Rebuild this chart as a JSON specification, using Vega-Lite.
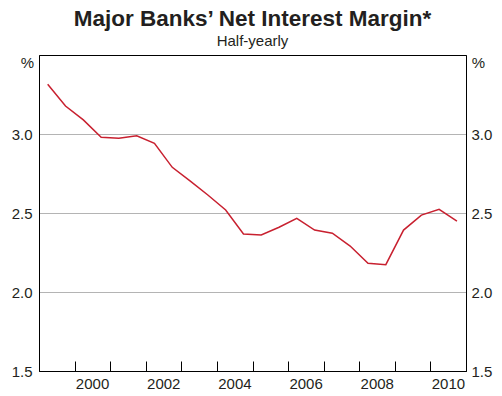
{
  "$schema": "https://vega.github.io/schema/vega-lite/v6.json",
  "width": 427,
  "height": 316,
  "autosize": {"type": "none"},
  "padding": {"left": 39, "top": 55, "right": 36, "bottom": 25},
  "background": "white",
  "title": {
    "text": "Major Banks’ Net Interest Margin*",
    "subtitle": "Half-yearly",
    "font": "Liberation Sans",
    "fontSize": 22.5,
    "fontWeight": "bold",
    "color": "#231f20",
    "subtitleFont": "Liberation Sans",
    "subtitleFontSize": 15,
    "subtitleColor": "#231f20",
    "subtitlePadding": 4,
    "anchor": "middle",
    "frame": "group",
    "offset": 6
  },
  "config": {
    "view": {"stroke": "black", "strokeWidth": 1},
    "axis": {
      "labelFont": "Liberation Sans",
      "labelFontSize": 15,
      "labelColor": "#231f20",
      "titleFont": "Liberation Sans",
      "titleFontSize": 15,
      "titleFontWeight": "normal",
      "titleColor": "#231f20",
      "domainColor": "black",
      "tickColor": "black"
    }
  },
  "data": {
    "values": [
      {"date": "1999-03-31", "nim": 3.315},
      {"date": "1999-09-30", "nim": 3.177},
      {"date": "2000-03-31", "nim": 3.089},
      {"date": "2000-09-30", "nim": 2.979},
      {"date": "2001-03-31", "nim": 2.973},
      {"date": "2001-09-30", "nim": 2.989},
      {"date": "2002-03-31", "nim": 2.941},
      {"date": "2002-09-30", "nim": 2.789},
      {"date": "2003-03-31", "nim": 2.703},
      {"date": "2003-09-30", "nim": 2.614},
      {"date": "2004-03-31", "nim": 2.519},
      {"date": "2004-09-30", "nim": 2.367},
      {"date": "2005-03-31", "nim": 2.361},
      {"date": "2005-09-30", "nim": 2.41},
      {"date": "2006-03-31", "nim": 2.466},
      {"date": "2006-09-30", "nim": 2.392},
      {"date": "2007-03-31", "nim": 2.372},
      {"date": "2007-09-30", "nim": 2.291},
      {"date": "2008-03-31", "nim": 2.182},
      {"date": "2008-09-30", "nim": 2.173},
      {"date": "2009-03-31", "nim": 2.392},
      {"date": "2009-09-30", "nim": 2.487},
      {"date": "2010-03-31", "nim": 2.523},
      {"date": "2010-09-30", "nim": 2.449}
    ]
  },
  "layer": [
    {
      "mark": {"type": "line", "color": "#c8202f", "strokeWidth": 1.5},
      "encoding": {
        "x": {
          "field": "date",
          "type": "temporal",
          "scale": {"domain": [{"year": 1999, "month": 1, "date": 1}, {"year": 2011, "month": 1, "date": 1}], "nice": false},
          "axis": {
            "orient": "bottom",
            "title": null,
            "grid": false,
            "values": [
              {"year": 2000, "month": 1, "date": 1}, {"year": 2002, "month": 1, "date": 1},
              {"year": 2004, "month": 1, "date": 1}, {"year": 2006, "month": 1, "date": 1},
              {"year": 2008, "month": 1, "date": 1}, {"year": 2010, "month": 1, "date": 1}
            ],
            "format": "%Y",
            "labelOffset": 17.5,
            "labelFlush": false,
            "labelOverlap": false,
            "ticks": false,
            "labelPadding": 5
          }
        },
        "y": {
          "field": "nim",
          "type": "quantitative",
          "scale": {"domain": [1.5, 3.5], "nice": false, "zero": false},
          "axis": {
            "orient": "left",
            "values": [1.5, 2.0, 2.5, 3.0],
            "format": ".1f",
            "ticks": false,
            "grid": true,
            "gridColor": "#b4b4b4",
            "labelPadding": 7,
            "title": "%",
            "titleAngle": 0,
            "titleX": -12,
            "titleY": 7,
            "titleAlign": "center",
            "titleBaseline": "middle"
          }
        }
      }
    },
    {
      "mark": {"type": "line", "opacity": 0},
      "encoding": {
        "x": {
          "field": "date",
          "type": "temporal",
          "axis": {
            "orient": "top",
            "offset": -316,
            "title": null,
            "grid": false,
            "domain": false,
            "labels": true,
            "labelOpacity": 0,
            "labelFlush": false,
            "format": "%y",
            "ticks": true,
            "tickSize": 10,
            "tickWidth": 1,
            "tickColor": "black",
            "values": [
              {"year": 1999, "month": 1, "date": 1}, {"year": 2000, "month": 1, "date": 1},
              {"year": 2001, "month": 1, "date": 1}, {"year": 2002, "month": 1, "date": 1},
              {"year": 2003, "month": 1, "date": 1}, {"year": 2004, "month": 1, "date": 1},
              {"year": 2005, "month": 1, "date": 1}, {"year": 2006, "month": 1, "date": 1},
              {"year": 2007, "month": 1, "date": 1}, {"year": 2008, "month": 1, "date": 1},
              {"year": 2009, "month": 1, "date": 1}, {"year": 2010, "month": 1, "date": 1},
              {"year": 2011, "month": 1, "date": 1}
            ]
          }
        },
        "y": {
          "field": "nim",
          "type": "quantitative",
          "axis": {
            "orient": "right",
            "values": [1.5, 2.0, 2.5, 3.0],
            "format": ".1f",
            "ticks": false,
            "grid": false,
            "labelPadding": 5,
            "title": "%",
            "titleAngle": 0,
            "titleX": 12,
            "titleY": 7,
            "titleAlign": "center",
            "titleBaseline": "middle"
          }
        }
      }
    }
  ],
  "resolve": {"axis": {"y": "independent", "x": "independent"}}
}
